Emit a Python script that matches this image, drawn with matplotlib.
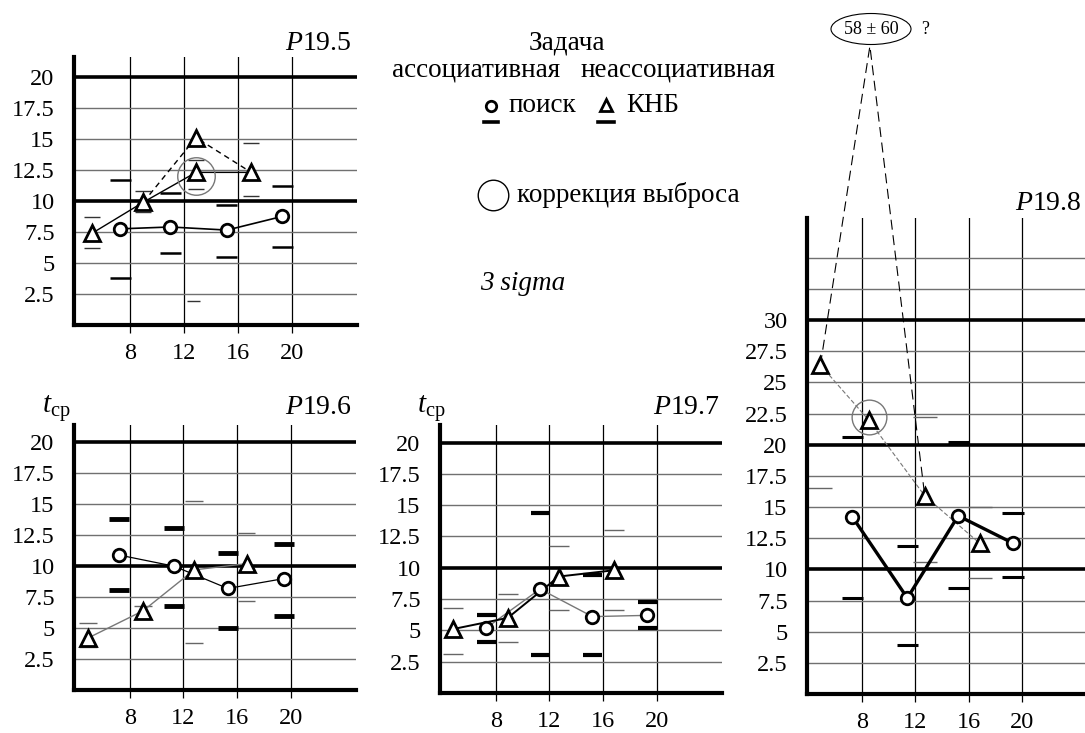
import numpy as np
import matplotlib
matplotlib.use("Agg")
import matplotlib.pyplot as plt
from matplotlib.patches import Ellipse

plt.rcParams["font.family"] = ["Liberation Serif", "DejaVu Serif"]
plt.rcParams["mathtext.fontset"] = "custom"
plt.rcParams["mathtext.rm"] = "Liberation Serif"
plt.rcParams["mathtext.it"] = "Liberation Serif:italic"

W, H = 1085, 733

x_ticks = [8, 12, 16, 20]
y_labels = [2.5, 5, 7.5, 10, 12.5, 15, 17.5, 20]
y_labels_p8 = y_labels + [22.5, 25, 27.5, 30]

# P19.5
p5_circ_x = [7.3, 11.0, 15.2, 19.3]
p5_circ_y = [7.75, 7.9, 7.65, 8.75]
p5_circ_hi = [11.7, 10.6, 9.7, 11.2]
p5_circ_lo = [3.8, 5.8, 5.5, 6.3]
p5_tri_x = [5.2, 9.0, 12.9, 17.0]
p5_tri_y = [7.4, 9.9, 12.3, 12.3]
p5_tri_hi = [8.7, 10.8, 13.3, 14.7]
p5_tri_lo = [6.2, 9.1, 11.0, 10.4]
p5_raw_x = [9.0, 12.9, 17.0]
p5_raw_y = [9.9, 15.1, 12.3]
p5_raw_lo = [np.nan, 1.9, np.nan]
p5_fix = (12.9, 12.0)

# P19.6
p6_circ_x = [7.2, 11.3, 15.3, 19.5]
p6_circ_y = [10.9, 10.0, 8.2, 9.0]
p6_circ_hi = [13.8, 13.1, 11.1, 11.8]
p6_circ_lo = [8.1, 6.8, 5.0, 6.0]
p6_tri_x = [4.9, 9.0, 12.8, 16.7]
p6_tri_y = [4.2, 6.4, 9.7, 10.2]
p6_tri_hi = [5.4, 6.8, 15.3, 12.7]
p6_tri_lo = [3.5, np.nan, 3.8, 7.2]

# P19.7
p7_circ_x = [7.3, 11.3, 15.2, 19.3]
p7_circ_y = [5.2, 8.3, 6.1, 6.2]
p7_circ_hi = [6.2, 14.4, 9.4, 7.3]
p7_circ_lo = [4.1, 3.0, 3.0, 5.2]
p7_tri_x = [4.8, 8.9, 12.7, 16.8]
p7_tri_y = [5.1, 6.0, 9.3, 9.8]
p7_tri_hi = [6.8, 7.9, 11.7, 13.0]
p7_tri_lo = [3.1, 4.1, 6.6, 6.6]

# P19.8
p8_circ_x = [7.3, 11.4, 15.2, 19.3]
p8_circ_y = [14.2, 7.7, 14.3, 12.1]
p8_circ_hi = [20.6, 11.9, 20.2, 14.5]
p8_circ_lo = [7.7, 3.9, 8.5, 9.4]
p8_tri_x = [4.9, 8.5, 12.7, 16.8]
p8_tri_y = [26.4, 22.0, 15.9, 12.1]
p8_tri_hi = [np.nan, np.nan, 22.2, 15.0]
p8_tri_lo = [16.5, np.nan, 10.6, 9.3]
p8_fix = (8.5, 22.2)
p8_outlier = (8.6, 52.0)
p8_outlier_label = "58 ± 60"

fig = plt.figure(figsize=(W / 100, H / 100), dpi=100)


def panel(left, top, right, bottom, ytop, labels, grid_top):
    ax = fig.add_axes([left / W, 1 - bottom / H, (right - left) / W, (bottom - top) / H])
    ax.set_facecolor("none")
    ax.set_xlim(3.85, 24.85)
    ax.set_ylim(0, ytop)
    for s in ["top", "right"]:
        ax.spines[s].set_visible(False)
    for s in ["left", "bottom"]:
        ax.spines[s].set_linewidth(3.0)
        ax.spines[s].set_color("black")
        ax.spines[s].set_zorder(5)
    for v in x_ticks:
        ax.axvline(v, color="black", lw=0.9, zorder=1)
    for h in np.arange(2.5, grid_top + 0.1, 2.5):
        if h % 10 == 0:
            ax.axhline(h, color="black", lw=2.6, zorder=1)
        else:
            ax.axhline(h, color="#707070", lw=1.0, zorder=1)
    ax.set_xticks(x_ticks)
    ax.set_xticklabels([str(v) for v in x_ticks])
    ax.tick_params(axis="x", length=6, width=0.9, direction="out", labelsize=17.5, pad=7)
    ax.set_yticks(labels)
    ax.set_yticklabels([("%g" % v) for v in labels])
    ax.tick_params(axis="y", which="major", length=0, labelsize=17.5, pad=14)
    ax.set_yticks([v for v in labels if v % 10 == 0], minor=True)
    ax.tick_params(axis="y", which="minor", length=5, width=2.6, direction="out")
    return ax


def dashes(ax, xs, ys, half, lw, color):
    xs = np.array(xs, dtype=float)
    ys = np.array(ys, dtype=float)
    ok = ~np.isnan(ys)
    ax.hlines(ys[ok], xs[ok] - half, xs[ok] + half, colors=color, lw=lw, zorder=3)


def points(ax, x, y, marker, ms):
    ax.plot(x, y, linestyle="none", marker=marker, ms=ms, mfc="white", mec="black", mew=2.0, zorder=6)


# P19.5
ax5 = panel(74, 57, 357, 325, 21.6, y_labels, 20)
ax5.plot(p5_raw_x, p5_raw_y, color="black", lw=1.0, ls=(0, (4, 3)), zorder=4)
ax5.plot(p5_tri_x, p5_tri_y, color="black", lw=1.0, zorder=4)
ax5.plot(p5_circ_x, p5_circ_y, color="black", lw=1.2, zorder=4)
dashes(ax5, p5_circ_x, p5_circ_hi, 0.78, 1.8, "black")
dashes(ax5, p5_circ_x, p5_circ_lo, 0.78, 1.8, "black")
dashes(ax5, p5_tri_x, p5_tri_hi, 0.6, 1.0, "#333333")
dashes(ax5, p5_tri_x, p5_tri_lo, 0.6, 1.0, "#333333")
dashes(ax5, np.array(p5_raw_x) - 0.2, p5_raw_lo, 0.5, 1.0, "#333333")
ax5.plot(*p5_fix, marker="o", ms=27, mfc="none", mec="#777777", mew=1.0, zorder=7)
points(ax5, [p5_raw_x[1]], [p5_raw_y[1]], "^", 11.5)
points(ax5, p5_tri_x, p5_tri_y, "^", 11.5)
points(ax5, p5_circ_x, p5_circ_y, "o", 9)

# P19.6
ax6 = panel(74, 425, 356, 690, 21.4, y_labels, 20)
ax6.plot(p6_tri_x, p6_tri_y, color="#777777", lw=1.0, zorder=4)
ax6.plot(p6_circ_x, p6_circ_y, color="black", lw=0.9, zorder=4)
dashes(ax6, p6_circ_x, p6_circ_hi, 0.75, 3.5, "black")
dashes(ax6, p6_circ_x, p6_circ_lo, 0.75, 3.5, "black")
dashes(ax6, p6_tri_x, p6_tri_hi, 0.65, 1.0, "#666666")
dashes(ax6, p6_tri_x, p6_tri_lo, 0.65, 1.0, "#666666")
points(ax6, p6_tri_x, p6_tri_y, "^", 11.5)
points(ax6, p6_circ_x, p6_circ_y, "o", 9)

# P19.7
ax7 = panel(440, 425, 722, 693, 21.4, y_labels, 20)
ax7.plot(p7_circ_x, p7_circ_y, color="#777777", lw=1.0, zorder=4)
ax7.plot(p7_tri_x, p7_tri_y, color="black", lw=1.4, zorder=4)
dashes(ax7, p7_circ_x, p7_circ_hi, 0.7, 3.0, "black")
dashes(ax7, p7_circ_x, p7_circ_lo, 0.7, 3.0, "black")
dashes(ax7, p7_tri_x, p7_tri_hi, 0.75, 1.0, "#666666")
dashes(ax7, p7_tri_x, p7_tri_lo, 0.75, 1.0, "#666666")
points(ax7, p7_tri_x, p7_tri_y, "^", 11.5)
points(ax7, p7_circ_x, p7_circ_y, "o", 9)

# P19.8
ax8 = panel(807, 218, 1088, 694, 38.2, y_labels_p8, 35)
ax8.set_xlim(3.9, 24.9)
ax8.plot(p8_tri_x, p8_tri_y, color="#777777", lw=0.8, ls=(0, (4, 2)), zorder=4)
ax8.plot([p8_tri_x[0], p8_outlier[0], p8_tri_x[2]], [p8_tri_y[0], p8_outlier[1], p8_tri_y[2]],
         color="black", lw=0.8, ls=(0, (9, 5)), zorder=4, clip_on=False)
ax8.plot(p8_circ_x, p8_circ_y, color="black", lw=2.4, zorder=4)
dashes(ax8, p8_circ_x, p8_circ_hi, 0.8, 2.2, "black")
dashes(ax8, p8_circ_x, p8_circ_lo, 0.8, 2.2, "black")
dashes(ax8, p8_tri_x, p8_tri_hi, 0.9, 1.0, "#666666")
dashes(ax8, p8_tri_x, p8_tri_lo, 0.9, 1.0, "#666666")
ax8.plot(*p8_fix, marker="o", ms=25, mfc="none", mec="#777777", mew=1.0, zorder=7)
points(ax8, p8_tri_x, p8_tri_y, "^", 11.5)
points(ax8, p8_circ_x, p8_circ_y, "o", 9)

# overlay in pixel coordinates for legend and labels
ov = fig.add_axes([0, 0, 1, 1], zorder=10)
ov.set_xlim(0, W)
ov.set_ylim(H, 0)
ov.axis("off")
ov.patch.set_alpha(0)

ov.text(352, 43, "$P$19.5", fontsize=20, ha="right", va="center")
ov.text(352, 407, "$P$19.6", fontsize=20, ha="right", va="center")
ov.text(720, 407, "$P$19.7", fontsize=20, ha="right", va="center")
ov.text(1082, 203, "$P$19.8", fontsize=20, ha="right", va="center")
ov.text(42, 413, "$t_{\\mathrm{ср}}$", fontsize=21, ha="left", va="baseline")
ov.text(417, 413, "$t_{\\mathrm{ср}}$", fontsize=21, ha="left", va="baseline")

ov.text(567, 43, "Задача", fontsize=19.5, ha="center", va="center")
ov.text(476, 70, "ассоциативная", fontsize=19.5, ha="center", va="center")
ov.text(678, 70, "неассоциативная", fontsize=19.5, ha="center", va="center")
ov.plot([491], [106], marker="o", ms=7.5, mfc="white", mec="black", mew=2.0)
ov.plot([484, 498], [122, 122], color="black", lw=2.6)
ov.text(509, 106, "поиск", fontsize=19.5, ha="left", va="center")
ov.plot([606], [105], marker="^", ms=9, mfc="white", mec="black", mew=2.0)
ov.plot([598, 614], [122, 122], color="black", lw=2.6)
ov.text(626, 106, "КНБ", fontsize=19.5, ha="left", va="center")
ov.plot([493], [195], marker="o", ms=22, mfc="none", mec="black", mew=1.0)
ov.text(517, 195, "коррекция выброса", fontsize=19.5, ha="left", va="center")
ov.text(480, 283, "3 sigma", fontsize=19.5, style="italic", ha="left", va="center")

ov.add_patch(Ellipse((871, 29), 80, 31, fill=False, ec="black", lw=0.8))
ov.text(871, 30, p8_outlier_label, fontsize=13, ha="center", va="center")
ov.text(925, 30, "?", fontsize=13, ha="center", va="center")

fig.savefig("out.png", dpi=100, facecolor="white")
